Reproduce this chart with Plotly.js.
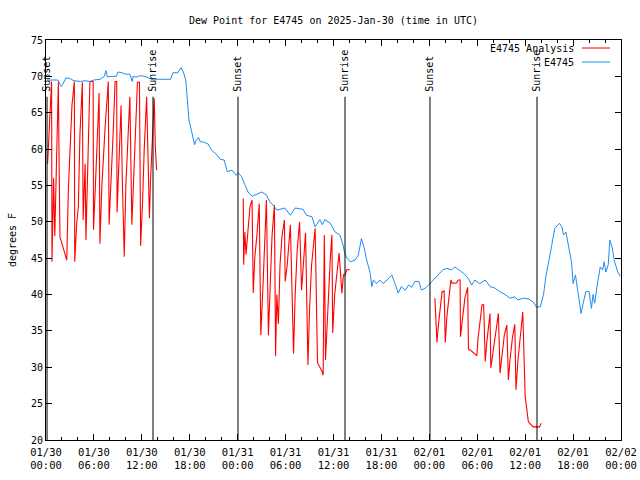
<!DOCTYPE html>
<html>
<head>
<meta charset="utf-8">
<script src="https://cdn.plot.ly/plotly-3.0.1.min.js"></script>
<style>html,body{margin:0;padding:0;background:#fff}#chart{width:640px;height:480px}</style>
</head>
<body>
<div id="chart"></div>
<script>
// Time values are hours after 2025-01-30 00:00 UTC
const obsHours = [0.13,1.5,1.9,2.1,2.5,3.0,3.5,4.3,4.9,5.5,6.0,6.8,7.3,7.5,7.7,8.0,8.8,9.0,9.5,10.0,10.5,10.8,10.9,11.3,11.8,12.4,13.0,13.5,14.0,14.3,15.6,15.9,16.5,16.9,17.2,17.5,17.7,17.9,18.2,18.6,18.8,19.1,19.3,19.7,20.3,20.7,21.4,21.8,22.3,22.7,23.3,23.8,24.1,24.5,24.9,25.3,25.8,26.2,27.0,27.6,28.0,28.6,28.9,29.9,30.6,31.2,32.2,32.6,33.3,33.7,34.1,34.3,34.6,34.9,35.6,36.2,36.8,37.0,37.2,37.4,37.7,38.1,38.7,39.1,39.5,39.8,40.1,40.6,40.8,41.0,41.4,41.8,42.2,42.7,43.3,43.7,44.1,44.5,45.0,45.4,45.8,46.2,46.7,47.0,47.5,47.9,48.3,48.9,49.3,49.7,50.2,50.8,51.2,51.6,52.3,52.9,53.3,53.7,54.3,55.0,55.6,56.2,56.8,57.5,58.1,58.7,59.1,59.8,60.4,61.0,61.4,61.9,62.3,62.6,62.9,63.3,63.7,64.3,64.6,64.8,65.1,65.5,65.8,66.0,66.3,66.6,67.0,67.3,67.6,68.0,68.3,68.5,68.7,69.0,69.4,69.7,69.9,70.1,70.4,70.6,70.9,71.2,71.6,71.9];
const obsDewPoint = [69.5,69.5,68.6,68.9,69.8,69.7,69.4,69.3,69.4,69.3,69.5,69.6,70.0,70.8,69.9,70.0,70.0,70.6,70.5,70.3,70.3,69.3,70.0,69.9,70.1,70.0,69.7,69.5,69.6,69.6,69.6,70.5,70.5,71.2,70.6,69.5,66.3,64.0,62.6,60.6,61.2,61.6,61.0,61.0,60.7,59.9,59.2,58.6,58.5,56.9,57.1,56.4,56.7,56.2,55.1,54.1,53.5,53.7,54.1,53.7,52.8,52.1,51.6,51.9,50.9,51.9,51.7,50.9,50.7,49.3,50.0,50.3,49.6,50.3,49.8,48.6,48.2,47.5,46.8,45.7,45.0,44.5,44.75,45.4,47.7,46.6,45.0,42.9,41.1,42.0,41.5,42.0,41.5,42.0,42.7,41.5,40.2,41.1,40.6,41.3,41.0,41.8,41.8,40.6,40.9,41.3,41.8,42.5,42.9,43.4,43.6,43.4,43.8,43.5,42.9,42.2,41.3,42.0,41.5,42.0,41.1,40.9,40.4,40.0,39.5,39.7,39.25,39.5,39.4,39.0,38.3,38.3,40.0,42.5,44.5,46.6,49.1,49.8,49.3,48.2,48.6,46.4,44.5,41.5,42.7,40.4,37.4,39.0,40.4,40.4,38.1,40.0,38.8,41.1,43.8,43.4,44.5,43.1,44.1,47.5,46.4,44.5,43.1,42.5];

const analysisHours = [0.2,0.7,0.75,0.95,1.1,1.4,1.55,1.65,1.75,2.0,2.25,2.6,2.8,3.0,3.25,3.55,3.6,3.85,4.05,4.25,4.55,4.65,4.9,5.0,5.25,5.5,5.9,5.95,6.15,6.4,6.65,6.75,7.0,7.4,7.8,7.9,8.15,8.4,8.65,8.85,8.9,9.15,9.4,9.55,9.8,10.0,10.25,10.5,10.75,10.95,11.15,11.45,11.7,11.85,12.1,12.3,12.6,12.95,13.1,13.3,13.55,13.7,13.85,
  null,
  24.7,24.75,24.9,25.05,25.3,25.55,25.8,25.95,26.15,26.4,26.7,26.9,27.2,27.4,27.6,27.85,28.05,28.3,28.6,28.75,28.9,29.1,29.3,29.55,29.85,29.95,30.2,30.45,30.6,31.0,31.2,31.45,31.75,32.0,32.25,32.5,32.8,33.0,33.25,33.5,33.7,34.0,34.3,34.55,34.7,34.85,35.0,35.2,35.4,35.6,35.8,35.9,36.15,36.4,36.7,37.05,37.25,37.45,37.65,38.05,
  null,
  48.7,48.95,49.15,49.35,49.6,49.85,50.0,50.2,50.45,50.7,50.85,51.4,51.6,51.85,51.9,52.15,52.45,52.8,52.9,53.1,53.5,53.95,54.1,54.4,54.6,54.8,55.0,55.2,55.4,55.6,55.7,56.0,56.35,56.65,56.85,57.1,57.4,57.7,57.9,58.1,58.4,58.7,58.85,59.1,59.4,59.7,60.0,60.4,61.0,61.8,62.0];
const analysisDewPoint = [58.0,69.3,44.5,56,48,62,69.3,57,47.9,47.0,46.0,44.75,54.4,60,66,69.3,44.5,49.9,52,62,69.2,50.25,58,47.5,58,69.3,69.3,48.9,54,62,67.7,47.0,55,63,69.3,49.6,55,62,69.3,69.3,51.3,58,66,56,45.2,55,62,67.2,49.6,55,62,69.2,69.2,46.7,53,60,67.2,50.5,56,62,67.0,60,57.1,
  null,
  53.2,44.1,48.6,45.5,48.9,52.1,53.0,40.2,45.2,48,52.5,34.4,42,48,53.0,34.4,42,48,52.3,31.5,40,36,44,48,50.25,41.8,44,47,49.6,31.9,40,46,50.0,40.6,44,48.5,30.3,38,44,47,49.1,30.6,30.0,29.5,28.9,48.2,31.0,36,40,45,48.2,34.7,40,43,45.7,40.2,42.7,42.7,43.4,43.4,
  null,
  39.5,33.4,36,38,40.4,40.5,33.4,37,40,42.0,41.55,41.6,42.0,42.0,34.2,37,39.5,41.0,32.4,32.4,32.0,31.6,34,36.5,38.6,38.6,30.8,33.5,35.5,37.4,29.9,32.5,35,37.4,29.2,32,34.5,35.8,28.25,31,34,35.9,26.9,31,34,37.6,26.0,22.5,21.8,21.8,22.3];

const sunEventHours = [0.13, 13.4, 24.04, 37.44, 48.08, 61.48];
const sunEventLabels = ['Sunset','Sunrise','Sunset','Sunrise','Sunset','Sunrise'];

const yTickVals = [20,25,30,35,40,45,50,55,60,65,70,75];

const BASE = Date.UTC(2025, 0, 30, 0, 0, 0);
const toTime = h => (h === null ? null : BASE + h * 3600000);

const FONT = 'DejaVu Sans Mono, Liberation Mono, monospace';
const RED = '#ff0000';
const BLUE = '#1e8cf0';

const traces = [
  {
    x: analysisHours.map(toTime), y: analysisDewPoint,
    type: 'scatter', mode: 'lines', name: 'E4745 Analysis',
    line: {color: RED, width: 1.1}, connectgaps: false, showlegend: false
  },
  {
    x: obsHours.map(toTime), y: obsDewPoint,
    type: 'scatter', mode: 'lines', name: 'E4745',
    line: {color: BLUE, width: 1}, showlegend: false
  }
];

const shapes = sunEventHours.map(h => ({
  type: 'line', xref: 'x', yref: 'y',
  x0: toTime(h), x1: toTime(h), y0: 20, y1: 67.2,
  line: {color: '#000', width: 1}
}));
// legend samples
shapes.push({type:'line', xref:'paper', yref:'paper', x0:0.932, x1:0.981, y0:0.98, y1:0.98, line:{color:RED, width:1}});
shapes.push({type:'line', xref:'paper', yref:'paper', x0:0.932, x1:0.981, y0:0.945, y1:0.945, line:{color:BLUE, width:1}});

const annotations = sunEventHours.map((h, i) => ({
  x: toTime(h), y: 67.6, xref: 'x', yref: 'y',
  text: sunEventLabels[i], showarrow: false, textangle: -90,
  xanchor: 'center', yanchor: 'bottom',
  font: {family: FONT, size: 10, color: '#000'}
}));
annotations.push({x: 0.922, y: 0.98, xref:'paper', yref:'paper', text:'E4745 Analysis', showarrow:false, xanchor:'right', yanchor:'middle', font:{family:FONT, size:10, color:'#000'}});
annotations.push({x: 0.922, y: 0.945, xref:'paper', yref:'paper', text:'E4745', showarrow:false, xanchor:'right', yanchor:'middle', font:{family:FONT, size:10, color:'#000'}});
annotations.push({x: -0.059, y: 0.5, xref:'paper', yref:'paper', text:'degrees F', showarrow:false, textangle:-90, xanchor:'center', yanchor:'middle', font:{family:FONT, size:10, color:'#000'}});

const layout = {
  width: 640, height: 480,
  margin: {l: 46, r: 19, t: 40, b: 40},
  paper_bgcolor: '#fff', plot_bgcolor: '#fff',
  font: {family: FONT, size: 10, color: '#000'},
  title: {text: 'Dew Point for E4745 on 2025-Jan-30 (time in UTC)', x: 0.5, xref: 'paper', y: 0.958, yref: 'container', yanchor: 'middle', font: {family: FONT, size: 10, color: '#000'}},
  showlegend: false,
  xaxis: {
    type: 'date', range: ['2025-01-30 00:00', '2025-02-02 00:00'],
    tick0: '2025-01-30 00:00', dtick: 6 * 3600000, tickformat: '%m/%d\n%H:%M',
    ticks: 'inside', ticklen: 6, tickcolor: '#000', tickwidth: 1, ticklabelstandoff: 2,
    minor: {dtick: 2 * 3600000, ticks: 'inside', ticklen: 3, tickcolor: '#000', tickwidth: 1, showgrid: false},
    showline: true, linecolor: '#000', linewidth: 1, mirror: 'allticks',
    showgrid: false, zeroline: false, fixedrange: true,
    tickfont: {family: FONT, size: 10.5, color: '#000'}
  },
  yaxis: {
    range: [20, 75], tickvals: yTickVals,
    ticks: 'inside', ticklen: 6, tickcolor: '#000', tickwidth: 1,
    showline: true, linecolor: '#000', linewidth: 1, mirror: 'allticks',
    showgrid: false, zeroline: false, fixedrange: true,
    tickfont: {family: FONT, size: 10, color: '#000'}
  },
  shapes: shapes,
  annotations: annotations
};

Plotly.newPlot('chart', traces, layout, {staticPlot: true, displayModeBar: false});
</script>
</body>
</html>
